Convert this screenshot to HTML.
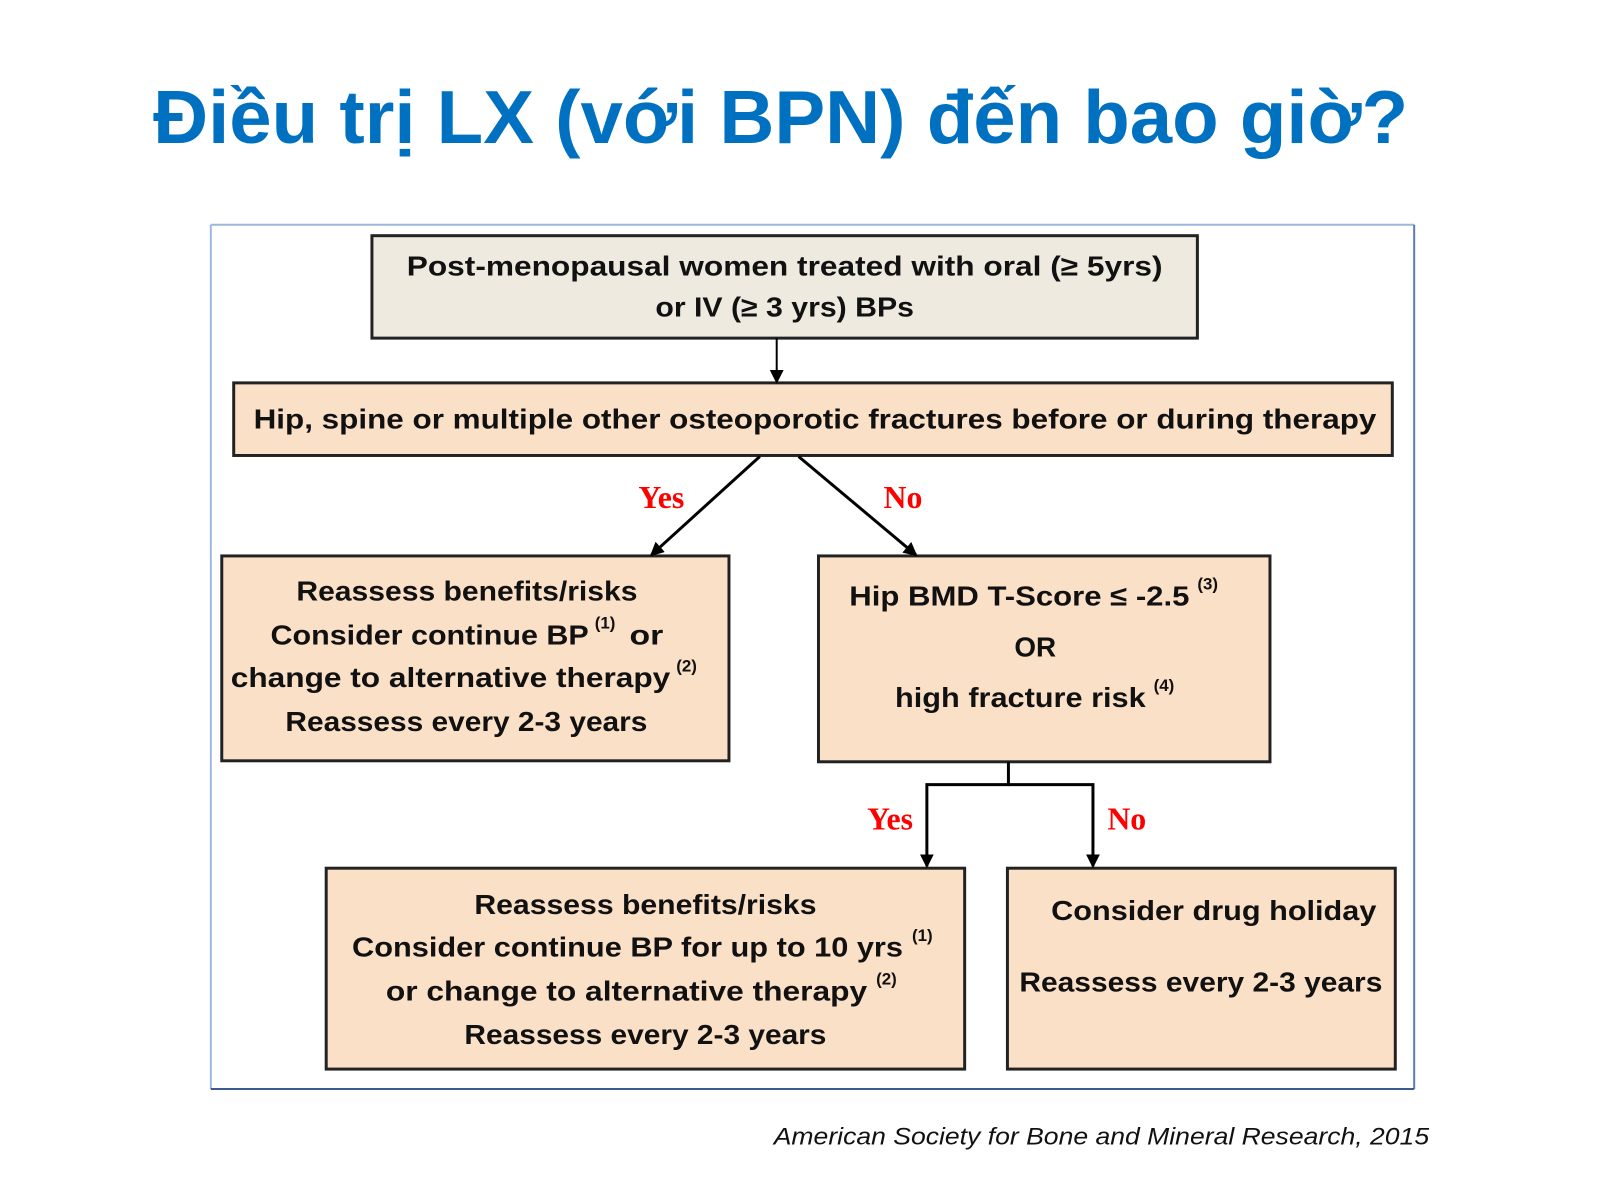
<!DOCTYPE html>
<html><head><meta charset="utf-8"><style>
html,body{margin:0;padding:0;background:#fff;}
svg{display:block;}
.t{font-family:"Liberation Sans",sans-serif;font-weight:bold;font-size:28px;fill:#111;}
.s{font-family:"Liberation Sans",sans-serif;font-weight:bold;font-size:17px;fill:#111;}
.r{font-family:"Liberation Serif",serif;font-weight:bold;font-size:32px;fill:#f00;}
</style></head><body>
<svg width="1600" height="1200" viewBox="0 0 1600 1200" xmlns="http://www.w3.org/2000/svg">
<defs><marker id="a" markerWidth="14" markerHeight="14" refX="12" refY="7" orient="auto" markerUnits="userSpaceOnUse"><path d="M0,0 L14,7 L0,14 z" fill="#000"/></marker></defs>
<g transform="scale(0.9945)">
<text x="154" y="144" font-family="Liberation Sans,sans-serif" font-weight="bold" font-size="76" fill="#0070C0" textLength="1262" lengthAdjust="spacingAndGlyphs">Điều trị LX (với BPN) đến bao giờ?</text>
<line x1="212" y1="226" x2="1422" y2="226" stroke="#9db8e0" stroke-width="2"/>
<line x1="212" y1="226" x2="212" y2="1095" stroke="#9db8e0" stroke-width="2"/>
<line x1="1422" y1="226" x2="1422" y2="1095" stroke="#5a7ab0" stroke-width="2"/>
<line x1="212" y1="1095" x2="1422" y2="1095" stroke="#3c5a90" stroke-width="2"/>
<rect x="374" y="237" width="830" height="103" fill="#EEEAE0" stroke="#222" stroke-width="3"/>
<rect x="235" y="385" width="1165" height="73" fill="#FBE0C8" stroke="#222" stroke-width="3"/>
<rect x="223" y="559" width="510" height="206" fill="#FBE0C8" stroke="#222" stroke-width="3"/>
<rect x="823" y="559" width="454" height="207" fill="#FBE0C8" stroke="#222" stroke-width="3"/>
<rect x="328" y="873" width="642" height="202" fill="#FBE0C8" stroke="#222" stroke-width="3"/>
<rect x="1013" y="873" width="390" height="202" fill="#FBE0C8" stroke="#222" stroke-width="3"/>
<line x1="781" y1="340" x2="781" y2="384" stroke="#000" stroke-width="2" marker-end="url(#a)"/>
<line x1="764" y1="459" x2="655" y2="558" stroke="#000" stroke-width="3" marker-end="url(#a)"/>
<line x1="803" y1="459" x2="921" y2="558" stroke="#000" stroke-width="3" marker-end="url(#a)"/>
<polyline points="1014,766 1014,789 932,789 932,871" fill="none" stroke="#000" stroke-width="3" marker-end="url(#a)"/>
<polyline points="1014,789 1099,789 1099,871" fill="none" stroke="#000" stroke-width="3" marker-end="url(#a)"/>
<text class="r" x="665" y="511" text-anchor="middle">Yes</text>
<text class="r" x="908" y="511" text-anchor="middle">No</text>
<text class="r" x="895" y="834" text-anchor="middle">Yes</text>
<text class="r" x="1133" y="834" text-anchor="middle">No</text>
<text class="t" x="409" y="277" textLength="760" lengthAdjust="spacingAndGlyphs">Post-menopausal women treated with oral (≥ 5yrs)</text>
<text class="t" x="659" y="318" textLength="260" lengthAdjust="spacingAndGlyphs">or IV (≥ 3 yrs) BPs</text>
<text class="t" x="255" y="431" textLength="1129" lengthAdjust="spacingAndGlyphs">Hip, spine or multiple other osteoporotic fractures before or during therapy</text>
<text class="t" x="298" y="604" textLength="343" lengthAdjust="spacingAndGlyphs">Reassess benefits/risks</text>
<text class="t" x="272" y="648" textLength="320" lengthAdjust="spacingAndGlyphs">Consider continue BP</text>
<text class="s" x="598" y="632">(1)</text>
<text class="t" x="633" y="648" textLength="34" lengthAdjust="spacingAndGlyphs">or</text>
<text class="t" x="232" y="691" textLength="442" lengthAdjust="spacingAndGlyphs">change to alternative therapy</text>
<text class="s" x="680" y="675">(2)</text>
<text class="t" x="287" y="735" textLength="364" lengthAdjust="spacingAndGlyphs">Reassess every 2-3 years</text>
<text class="t" x="854" y="609" textLength="342" lengthAdjust="spacingAndGlyphs">Hip BMD T-Score ≤ -2.5</text>
<text class="s" x="1204" y="593">(3)</text>
<text class="t" x="1041" y="660" text-anchor="middle">OR</text>
<text class="t" x="900" y="711" textLength="252" lengthAdjust="spacingAndGlyphs">high fracture risk</text>
<text class="s" x="1160" y="695">(4)</text>
<text class="t" x="477" y="919" textLength="344" lengthAdjust="spacingAndGlyphs">Reassess benefits/risks</text>
<text class="t" x="354" y="962" textLength="554" lengthAdjust="spacingAndGlyphs">Consider continue BP for up to 10 yrs</text>
<text class="s" x="917" y="946">(1)</text>
<text class="t" x="388" y="1006" textLength="484" lengthAdjust="spacingAndGlyphs">or change to alternative therapy</text>
<text class="s" x="881" y="990">(2)</text>
<text class="t" x="467" y="1050" textLength="364" lengthAdjust="spacingAndGlyphs">Reassess every 2-3 years</text>
<text class="t" x="1057" y="925" textLength="327" lengthAdjust="spacingAndGlyphs">Consider drug holiday</text>
<text class="t" x="1025" y="997" textLength="365" lengthAdjust="spacingAndGlyphs">Reassess every 2-3 years</text>
<text x="1437" y="1151" text-anchor="end" font-family="Liberation Sans,sans-serif" font-style="italic" font-size="24" fill="#111" textLength="659" lengthAdjust="spacingAndGlyphs">American Society for Bone and Mineral Research, 2015</text>
</g>
</svg>
</body></html>
